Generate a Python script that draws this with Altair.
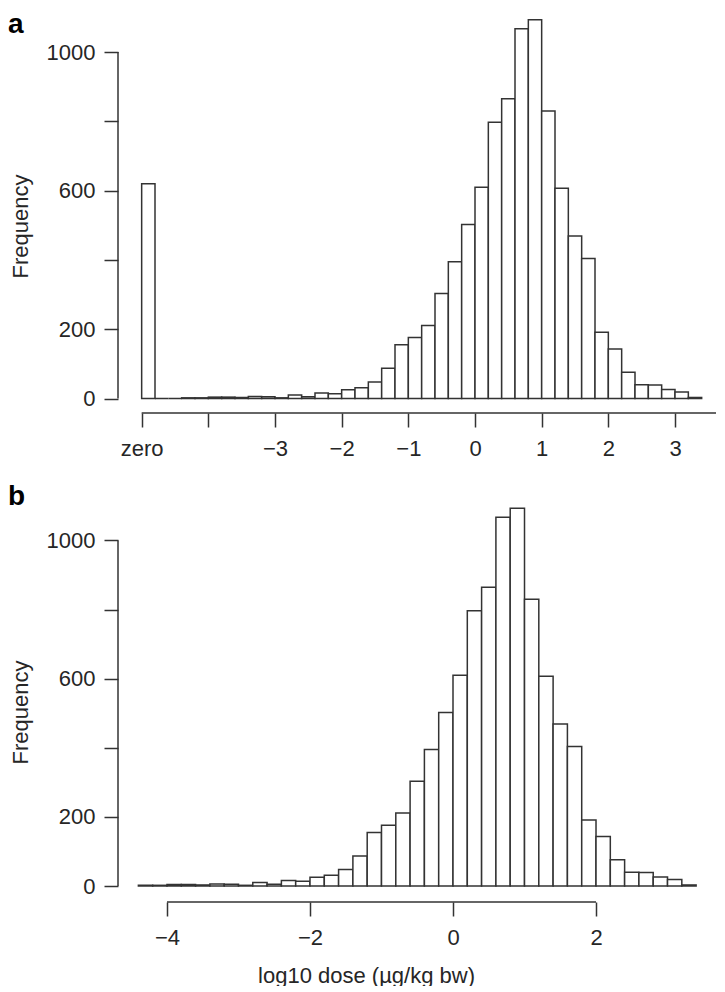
import altair as alt
import pandas as pd

# ---------------- data ----------------
bin_start = [-4.4, -4.2, -4.0, -3.8, -3.6, -3.4, -3.2, -3.0, -2.8, -2.6,
             -2.4, -2.2, -2.0, -1.8, -1.6, -1.4, -1.2, -1.0, -0.8, -0.6,
             -0.4, -0.2, 0.0, 0.2, 0.4, 0.6, 0.8, 1.0, 1.2, 1.4,
             1.6, 1.8, 2.0, 2.2, 2.4, 2.6, 2.8, 3.0, 3.2]
frequency = [2, 2, 4, 4, 3, 6, 5, 2, 10, 5,
             16, 14, 25, 31, 48, 87, 155, 176, 211, 303,
             395, 502, 610, 797, 865, 1067, 1093, 830, 607, 469,
             404, 191, 143, 76, 40, 39, 26, 19, 3]
# panel a: the "zero" bin and the two empty bins after it
zero_bin_start = [-5.0, -4.8, -4.6]
zero_bin_freq = [620, 0, 0]
bin_width = 0.2

y_ticks = [0, 200, 400, 600, 800, 1000]
top_x_ticks = [-5, -4, -3, -2, -1, 0, 1, 2, 3]
bottom_x_ticks = [-4, -2, 0, 2]
x_title = "log10 dose (µg/kg bw)"
panel_letters = ["a", "b"]

# ---------------- styling ----------------
FONT = "Liberation Sans"
INK = "#333333"
TEXT = "#262626"
FS = 22


def panel(lo, n, xdom, ydom, w, h, xticks, xlabel_expr, xline, letter,
          ytitle_y, xtitle=None, xtitle_x=None, xtitle_y=None):
    bars = pd.DataFrame({"lo": lo, "hi": [v + bin_width for v in lo],
                         "n": n, "base": [0] * len(lo)})
    xscale = alt.Scale(domain=xdom, nice=False, zero=False)
    yscale = alt.Scale(domain=ydom, nice=False, zero=False)

    xkw = dict(values=xticks, domain=False, grid=False, tickSize=14,
               tickColor=INK, tickWidth=1.5, labelFont=FONT,
               labelFontSize=FS, labelColor=TEXT, labelPadding=11,
               labelOverlap=False, labelFlush=False)
    if xlabel_expr:
        xkw["labelExpr"] = xlabel_expr
    if xtitle:
        xkw.update(title=xtitle, titleX=xtitle_x, titleY=xtitle_y,
                   titleFont=FONT, titleFontSize=FS, titleFontWeight="normal",
                   titleColor=TEXT, titleAlign="center", titleBaseline="middle")
    else:
        xkw["title"] = None
    xaxis = alt.Axis(**xkw)

    yaxis = alt.Axis(values=y_ticks, format="d", domain=False, grid=False,
                     tickSize=14, tickColor=INK, tickWidth=1.5,
                     labelFont=FONT, labelFontSize=FS, labelColor=TEXT,
                     labelPadding=9, labelOverlap=False, labelFlush=False,
                     labelExpr="datum.value == 400 || datum.value == 800 ? '' : datum.label",
                     title="Frequency", titleX=-98, titleY=ytitle_y,
                     titleFont=FONT, titleFontSize=FS, titleFontWeight="normal",
                     titleColor=TEXT, titleAlign="center", titleBaseline="middle")

    X = lambda f: alt.X(f, scale=xscale, axis=xaxis)
    Y = lambda f: alt.Y(f, scale=yscale, axis=yaxis)

    hist = alt.Chart(bars).mark_bar(fill="white", stroke=INK, strokeWidth=1.5).encode(
        x=X("lo:Q"), x2="hi:Q", y=Y("n:Q"), y2="base:Q",
    )

    yline_df = pd.DataFrame({"lo": [xdom[0]], "n": [y_ticks[0]], "n2": [y_ticks[-1]]})
    yline = alt.Chart(yline_df).mark_rule(color=INK, strokeWidth=1.5).encode(
        x=X("lo:Q"), y=Y("n:Q"), y2="n2:Q",
    )

    xline_df = pd.DataFrame({"lo": [xline[0]], "hi": [xline[1]], "n": [ydom[0]]})
    xl = alt.Chart(xline_df).mark_rule(color=INK, strokeWidth=1.5).encode(
        x=X("lo:Q"), x2="hi:Q", y=Y("n:Q"),
    )

    letter_df = pd.DataFrame({"lo": [xdom[0]], "n": [ydom[1]], "label": [letter]})
    let = alt.Chart(letter_df).mark_text(
        align="left", baseline="top", dx=-110, dy=3, font=FONT, fontSize=28,
        fontWeight="bold", color="black",
    ).encode(x=X("lo:Q"), y=Y("n:Q"), text="label:N")

    return alt.layer(hist, yline, xl, let).properties(width=w, height=h)


top_xdom = [-5.355, 3.615]
top_ydom = [-41.8, 1127.0]
top = panel(zero_bin_start + bin_start, zero_bin_freq + frequency,
            top_xdom, top_ydom, 598, 405, top_x_ticks,
            "datum.value == -5 ? 'zero' : (datum.value == -4 ? '' : datum.label)",
            [top_x_ticks[0], top_xdom[1]], panel_letters[0], 218)

bot_xdom = [-4.685, 3.678]
bot_ydom = [-46.3, 1175.1]
bottom = panel(bin_start, frequency, bot_xdom, bot_ydom, 598, 422,
               bottom_x_ticks, None, [bottom_x_ticks[0], bottom_x_ticks[-1]],
               panel_letters[1], 232, xtitle=x_title, xtitle_x=248, xtitle_y=73)

chart = alt.vconcat(top, bottom, spacing=21).properties(
    padding=0, background="white"
).configure_view(stroke=None)

chart.save("out.html", embed_options={"renderer": "svg", "actions": False})
